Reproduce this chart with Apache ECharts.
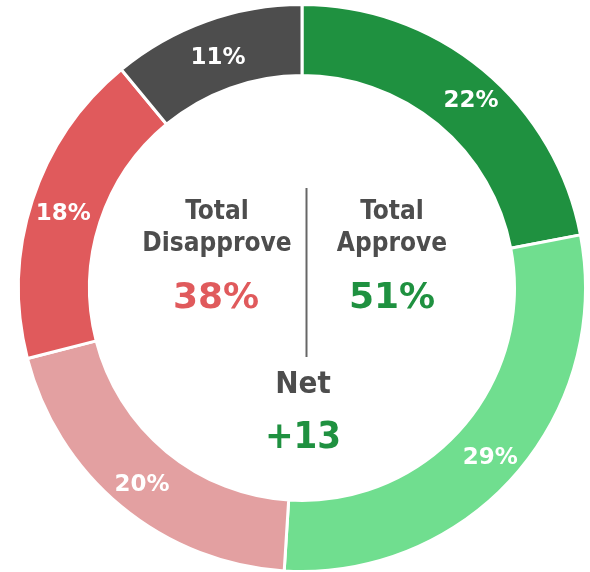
<!DOCTYPE html>
<html>
<head>
<meta charset="utf-8">
<script src="https://cdn.jsdelivr.net/npm/echarts@6/dist/echarts.min.js"></script>
<style>html,body{margin:0;padding:0;background:#fff}#c{width:590px;height:572px}</style>
</head>
<body>
<div id="c"></div>
<script>
var categories = ['Strongly Approve', 'Somewhat Approve', 'Somewhat Disapprove', 'Strongly Disapprove', 'Not Sure'];
var values = [22, 29, 20, 18, 11];
var colors = ['#1f9140', '#70de8f', '#e3a0a1', '#e05a5c', '#4d4d4d'];
var totalApprove = '51%';
var totalDisapprove = '38%';
var netLabel = '+13';

var FONTC = '"DejaVu Sans Condensed", "DejaVu Sans", sans-serif';
var FONT = '"DejaVu Sans", sans-serif';
var chart = echarts.init(document.getElementById('c'), null, {renderer: 'canvas'});
chart.setOption({
  animation: false,
  series: [{
    type: 'pie',
    center: [302, 288],
    radius: [212.5, 283.5],
    startAngle: 90,
    clockwise: true,
    avoidLabelOverlap: false,
    itemStyle: {borderColor: '#fff', borderWidth: 3},
    label: {
      show: true, position: 'inside', formatter: '{c}%',
      color: '#fff', fontFamily: FONT, fontWeight: 'bold', fontSize: 23, offset: [0, 4]
    },
    labelLine: {show: false},
    emphasis: {disabled: true},
    data: categories.map(function (n, i) {
      var d = {name: n, value: values[i], itemStyle: {color: colors[i]}};
      if (i === 0) d.label = {offset: [9, 6]};
      if (i === 4) d.label = {offset: [1, 6]};
      return d;
    })
  }],
  graphic: [
    {type: 'line', shape: {x1: 306.5, y1: 188, x2: 306.5, y2: 357}, style: {stroke: '#666', lineWidth: 2}},
    {type: 'text', x: 217, y: 228, style: {text: 'Total\nDisapprove', fill: '#4d4d4d', font: 'bold 26px ' + FONTC, align: 'center', verticalAlign: 'middle', lineHeight: 32}},
    {type: 'text', x: 392, y: 228, style: {text: 'Total\nApprove', fill: '#4d4d4d', font: 'bold 26px ' + FONTC, align: 'center', verticalAlign: 'middle', lineHeight: 32}},
    {type: 'text', x: 216, y: 299, style: {text: totalDisapprove, fill: '#e05a5c', font: 'bold 36px ' + FONT, align: 'center', verticalAlign: 'middle'}},
    {type: 'text', x: 392, y: 299, style: {text: totalApprove, fill: '#1f9140', font: 'bold 36px ' + FONT, align: 'center', verticalAlign: 'middle'}},
    {type: 'text', x: 303, y: 385, style: {text: 'Net', fill: '#4d4d4d', font: 'bold 31px ' + FONTC, align: 'center', verticalAlign: 'middle'}},
    {type: 'text', x: 303, y: 438, style: {text: netLabel, fill: '#1f9140', font: 'bold 38px ' + FONTC, align: 'center', verticalAlign: 'middle'}}
  ]
});
</script>
</body>
</html>
